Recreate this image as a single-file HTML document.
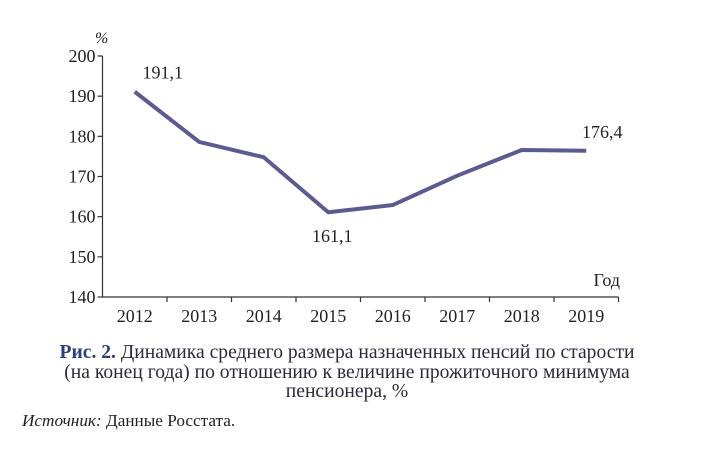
<!DOCTYPE html>
<html><head><meta charset="utf-8"><style>
body{margin:0;background:#fff;width:717px;height:457px;overflow:hidden;font-family:"Liberation Serif",serif;}
svg{position:absolute;left:0;top:0}
.cap{position:absolute;left:0;width:694px;top:343px;text-align:center;font-size:19.6px;line-height:19.5px;color:#2a2a3a;white-space:nowrap}
.src{position:absolute;left:22px;top:411px;font-size:17.2px;color:#222}
</style></head><body>
<svg width="717" height="340" id="chart"></svg>
<div class="cap"><b style="color:#2b3f7a">Рис. 2.</b> Динамика среднего размера назначенных пенсий по старости<br>(на конец года) по отношению к величине прожиточного минимума<br>пенсионера, %</div>
<div class="src"><i>Источник:</i> Данные Росстата.</div>
<script>
const years=["2012","2013","2014","2015","2016","2017","2018","2019"];
const values=[191.1,178.6,174.8,161.1,162.9,170.2,176.6,176.4];
const yTicks=[140,150,160,170,180,190,200];
const labels=[{i:0,t:"191,1"},{i:3,t:"161,1"},{i:7,t:"176,4"}];
const NS="http://www.w3.org/2000/svg",svg=document.getElementById('chart');
const x0=102.5,bw=64.5,y0=297,yTop=56;
const X=i=>x0+bw*(i+0.5);
const Y=v=>y0-(v-140)/(60)*(y0-yTop);
function mk(t,a,txt){const e=document.createElementNS(NS,t);for(const k in a)e.setAttribute(k,a[k]);if(txt!=null)e.textContent=txt;svg.appendChild(e);return e;}
const ax=mk('path',{d:`M${x0} ${yTop}V${y0}H${x0+bw*8}`,stroke:'#333',fill:'none','stroke-width':1.2});


yTicks.forEach(v=>{
 const tk=mk('line',{x1:x0-5,x2:x0,y1:Y(v),y2:Y(v),stroke:'#333','stroke-width':1.2});
 
 
 const t=mk('text',{x:x0-7,y:Y(v)+6,'text-anchor':'end','font-size':18,fill:'#222','font-family':'Liberation Serif'},v);
 
 
});
for(let k=1;k<=8;k++){
 const tk=mk('line',{x1:x0+bw*k,x2:x0+bw*k,y1:y0,y2:y0+5,stroke:'#333','stroke-width':1.2});
 
 
}
years.forEach((y,i)=>{
 const t=mk('text',{x:X(i),y:y0+25,'text-anchor':'middle','font-size':18,fill:'#222','font-family':'Liberation Serif'},y);
 
 
});
const yl=mk('text',{x:95,y:43,'font-size':16,fill:'#222','font-style':'italic'},'%');


const xl=mk('text',{x:620,y:286,'text-anchor':'end','font-size':18,fill:'#222'},'Год');


const ln=mk('polyline',{points:values.map((v,i)=>X(i)+','+Y(v)).join(' '),fill:'none',stroke:'#5b5b8f','stroke-width':4,'stroke-linejoin':'round'});


labels.forEach(l=>{
 const below=l.i===3;
 const t=mk('text',{x:X(l.i)+(below?4:l.i===7?16:28),y:below?Y(values[l.i])+30:Y(values[l.i])-13,'text-anchor':'middle','font-size':18,fill:'#222'},l.t);
 
 
});
</script>
</body></html>
